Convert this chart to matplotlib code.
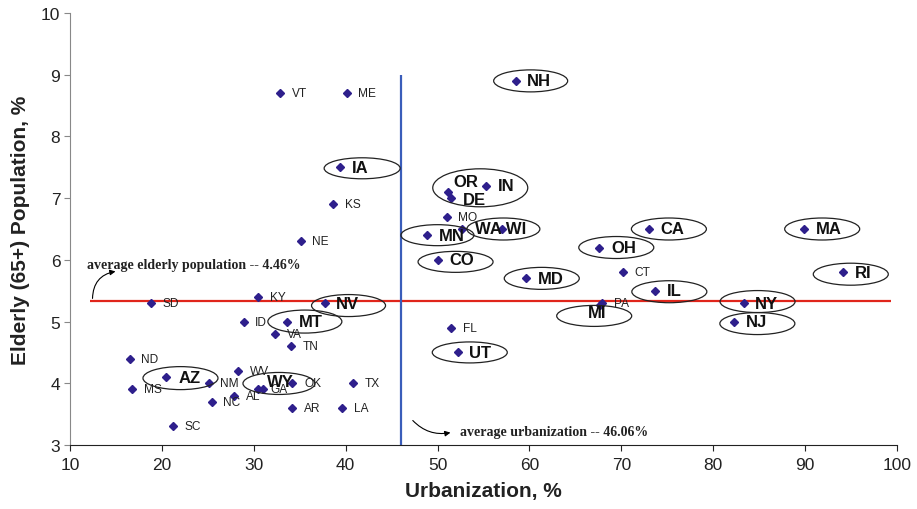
import matplotlib
matplotlib.use("Agg")
import matplotlib.pyplot as plt
from matplotlib.patches import Ellipse

# state data: urbanization (%) and elderly 65+ population (%)
states = ["VT", "ME", "NH", "IA", "KS", "NE", "OR", "DE", "IN", "MO",
          "MN", "WA", "WI", "CO", "MD", "OH", "CA", "MA", "CT", "RI",
          "IL", "PA", "MI", "NY", "NJ", "FL", "UT", "SD", "KY", "NV",
          "ID", "MT", "VA", "TN", "ND", "WV", "AZ", "NM", "OK", "TX",
          "MS", "GA", "WY", "AL", "NC", "AR", "LA", "SC"]
urban = [32.9, 40.1, 58.5, 39.4, 38.6, 35.1, 51.1, 51.5, 55.3, 51.0,
         48.9, 52.7, 57.0, 50.0, 59.6, 67.6, 73.0, 89.9, 70.2, 94.1,
         73.7, 67.9, 67.7, 83.3, 82.3, 51.5, 52.2, 18.8, 30.5, 37.7,
         28.9, 33.6, 32.3, 34.1, 16.5, 28.3, 20.5, 25.1, 34.2, 40.8,
         16.8, 30.5, 31.0, 27.9, 25.4, 34.2, 39.6, 21.2]
elderly = [8.7, 8.7, 8.9, 7.5, 6.9, 6.3, 7.1, 7.0, 7.2, 6.7,
           6.4, 6.5, 6.5, 6.0, 5.7, 6.2, 6.5, 6.5, 5.8, 5.8,
           5.5, 5.3, 5.27, 5.3, 5.0, 4.9, 4.5, 5.3, 5.4, 5.3,
           5.0, 5.0, 4.8, 4.6, 4.4, 4.2, 4.1, 4.0, 4.0, 4.0,
           3.9, 3.9, 3.9, 3.8, 3.7, 3.6, 3.6, 3.3]
bold_states = ["NH", "IA", "OR", "DE", "IN", "MN", "WA", "CO", "MD", "OH",
               "CA", "MA", "RI", "IL", "MI", "NY", "NJ", "UT", "NV", "MT",
               "AZ", "WY"]
# WA and WI share one label in the original
label_text = {"WA": "WA WI", "WI": ""}

avg_urban = 46.06
avg_elderly_line = 5.33
elderly_text = "average elderly population -- 4.46%"
urban_text = "average urbanization -- 46.06%"

# label tweaks (pixels, x right / y up) for crowded labels
label_shift = {"OR": (6, 10, "left"), "WY": (4, 7.6, "left"),
               "MI": (-3, -8, "center"), "DE": (12, -1, "left"),
               "WA": (13, 0, "left")}
# ellipses: state -> (dx, dy, width, height) in pixels relative to the point
ellipses = {"IA": (22, -1, 76, 21), "NH": (15, 0, 74, 22),
            "IN": (-6, -2, 95, 38), "MN": (10, 0, 73, 21),
            "WA": (41, 0, 73, 22), "CO": (18, -2, 75, 21),
            "MD": (16, 0, 75, 22), "OH": (17, 0, 75, 22),
            "MI": (-6, -11, 75, 21), "UT": (12, 0, 75, 21),
            "CA": (20, 0, 75, 22), "MA": (18, 0, 75, 22),
            "IL": (14, -1, 75, 22), "RI": (8, -2, 75, 22),
            "NY": (14, 1.5, 75, 22), "NJ": (23, -2, 75, 22),
            "NV": (24, -2.5, 74, 22), "MT": (18, 0, 74, 23),
            "AZ": (14, -1, 75, 23), "WY": (16, 6, 72, 22)}

fig = plt.figure(figsize=(9.17, 5.10), dpi=100)
ax = fig.add_axes([70 / 917, 1 - 446 / 510, 827 / 917, 432 / 510])
ax.set_xlim(10, 100)
ax.set_ylim(3, 10)

sx = ax.bbox.width / 90.0
sy = ax.bbox.height / 7.0

ax.hlines(avg_elderly_line, 12.2, 99.4, color="#E0251B", lw=1.6, zorder=2)
ax.vlines(avg_urban, 3, 9.0, color="#3A5DBA", lw=1.6, zorder=2)

ax.plot(urban, elderly, linestyle="none", marker="D", markersize=3.6,
        color="#2E1F8C", zorder=3)

for s, x, y in zip(states, urban, elderly):
    txt = label_text.get(s, s)
    dx, dy, ha = label_shift.get(s, (11.7, 0, "left"))
    if txt:
        if s in bold_states:
            ax.annotate(txt, (x, y), xytext=(dx, dy), textcoords="offset pixels",
                        ha=ha, va="center", fontsize=12, fontweight="bold",
                        family="Liberation Sans", color="#111111", zorder=5)
        else:
            ax.annotate(txt, (x, y), xytext=(dx, dy), textcoords="offset pixels",
                        ha=ha, va="center", fontsize=8.6,
                        family="Liberation Sans", color="#222222", zorder=5)
    if s in ellipses:
        ex, ey, ew, eh = ellipses[s]
        ax.add_patch(Ellipse((x + ex / sx, y + ey / sy), ew / sx, eh / sy,
                             fill=False, ec="#222222", lw=0.9, zorder=4))

# notes with curved arrows
ax.text(11.8, 5.93, elderly_text, family="Liberation Serif", fontweight="bold",
        fontsize=10, va="center", ha="left", color="#222222")
ax.annotate("", xy=(15.25, 5.82), xytext=(12.45, 5.33),
            arrowprops=dict(arrowstyle="-|>", color="black", lw=0.8,
                            mutation_scale=8,
                            connectionstyle="arc3,rad=-0.45"))
ax.text(52.4, 3.22, urban_text, family="Liberation Serif", fontweight="bold",
        fontsize=10, va="center", ha="left", color="#222222")
ax.annotate("", xy=(51.7, 3.21), xytext=(47.1, 3.43),
            arrowprops=dict(arrowstyle="-|>", color="black", lw=0.8,
                            mutation_scale=8,
                            connectionstyle="arc3,rad=0.3"))

ax.spines["top"].set_visible(False)
ax.spines["right"].set_visible(False)
ax.spines["left"].set_color("#888888")
ax.spines["bottom"].set_color("#222222")
ax.set_xticks(range(10, 101, 10))
ax.set_yticks(range(3, 11))
ax.tick_params(axis="y", direction="out", length=4, color="#888888",
               labelsize=12.5, pad=3)
ax.tick_params(axis="x", direction="out", length=4, color="#222222",
               labelsize=12.5, pad=5)
for lab in ax.get_xticklabels() + ax.get_yticklabels():
    lab.set_family("Liberation Sans")
    lab.set_color("#222222")

ax.set_xlabel("Urbanization, %", family="Liberation Sans", fontweight="bold",
              fontsize=15, color="#222222", labelpad=6)
ax.set_ylabel("Elderly (65+) Population, %", family="Liberation Sans",
              fontweight="bold", fontsize=15, color="#222222", labelpad=8)

fig.savefig("out.png", dpi=100)
